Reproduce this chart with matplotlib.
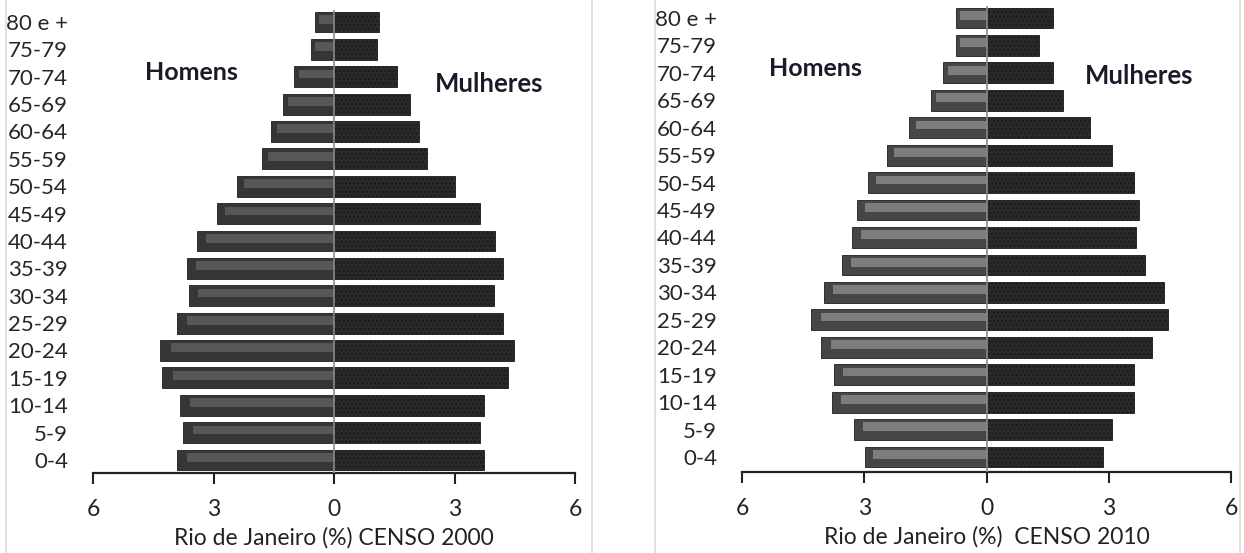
import numpy as np
import matplotlib.pyplot as plt
from matplotlib.patches import FancyBboxPatch

plt.rcParams['font.family'] = ['Lato', 'DejaVu Sans']

# age groups, bottom to top
idades = ['0-4', '5-9', '10-14', '15-19', '20-24', '25-29', '30-34', '35-39',
          '40-44', '45-49', '50-54', '55-59', '60-64', '65-69', '70-74',
          '75-79', '80 e +']

# censo 2000 (%)
homens_2000 = [3.90, 3.75, 3.83, 4.27, 4.32, 3.90, 3.60, 3.65, 3.41, 2.91,
               2.42, 1.80, 1.56, 1.28, 0.99, 0.58, 0.48]
mulheres_2000 = [3.73, 3.63, 3.73, 4.32, 4.49, 4.20, 3.98, 4.20, 4.02, 3.63,
                 3.01, 2.32, 2.12, 1.88, 1.56, 1.06, 1.11]

# censo 2010 (%)
homens_2010 = [2.98, 3.24, 3.80, 3.75, 4.06, 4.31, 4.00, 3.55, 3.29, 3.18,
               2.92, 2.45, 1.89, 1.37, 1.06, 0.75, 0.75]
mulheres_2010 = [2.86, 3.07, 3.63, 3.63, 4.06, 4.46, 4.36, 3.90, 3.68, 3.75,
                 3.63, 3.07, 2.55, 1.87, 1.62, 1.30, 1.62]

ticks = [-6, -3, 0, 3, 6]
tick_labels = ['6', '3', '0', '3', '6']

W, H = 1244, 553
fig = plt.figure(figsize=(W / 100, H / 100), dpi=100)
fig.patch.set_facecolor('white')

# light rounded frames around each panel
for x0, x1 in [(6, 592), (655, 1240)]:
    frame = FancyBboxPatch((x0 / W, -0.05), (x1 - x0) / W, 1.2,
                           boxstyle='round,pad=0,rounding_size=0.03',
                           transform=fig.transFigure, fill=False,
                           edgecolor='#dcdcdc', linewidth=1.2, zorder=0)
    fig.patches.append(frame)

paineis = [
    dict(x=(93, 575), yc=(22, 460), yax=473, hom=homens_2000, mul=mulheres_2000,
         base='#363636', band='#5e5e5e', title='Rio de Janeiro (%) CENSO 2000',
         h_pos=(-3.55, 14.15), m_pos=(3.85, 13.75)),
    dict(x=(742, 1231), yc=(18, 457), yax=472, hom=homens_2010, mul=mulheres_2010,
         base='#464646', band='#878787', title='Rio de Janeiro (%)  CENSO 2010',
         h_pos=(-4.2, 14.15), m_pos=(3.75, 13.9)),
]

y = np.arange(len(idades))
for p in paineis:
    sp = (p['yc'][1] - p['yc'][0]) / (len(idades) - 1)
    ybot = -(p['yax'] - p['yc'][1]) / sp
    ytop = len(idades) - 1 + 0.45
    top_px = p['yc'][0] - 0.45 * sp
    ax = fig.add_axes([p['x'][0] / W, 1 - p['yax'] / H,
                       (p['x'][1] - p['x'][0]) / W, (p['yax'] - top_px) / H])
    hom = -np.array(p['hom'])
    mul = np.array(p['mul'])
    h = 0.76
    ax.barh(y, hom, height=h, color=p['base'], edgecolor='#1e1e1e', linewidth=0.6, zorder=2)
    # lighter bevel band on the men's bars
    ax.barh(y + 0.1, hom * 0.96 + 0.08, height=h * 0.42, color=p['band'],
            linewidth=0, zorder=3, alpha=0.85)
    ax.barh(y, mul, height=h, color='#2a2a2a', edgecolor='#1a1a1a', linewidth=0.6,
            hatch='....', zorder=2)
    ax.axvline(0, color='#8a8a8a', linewidth=1.2, zorder=4)

    ax.set_xlim(-6, 6)
    ax.set_ylim(ybot, ytop)
    ax.set_xticks(ticks)
    ax.set_xticklabels(tick_labels, fontsize=16.5)
    ax.set_yticks(y)
    ax.set_yticklabels(idades, fontsize=16, color='#262626')
    ax.tick_params(axis='y', length=0, pad=18)
    ax.tick_params(axis='x', direction='out', length=8, width=1.5, pad=11,
                   colors='#222222')
    for s in ['left', 'right', 'top']:
        ax.spines[s].set_visible(False)
    ax.spines['bottom'].set_linewidth(1.6)
    ax.spines['bottom'].set_color('#222222')
    ax.set_xlabel(p['title'], fontsize=16.5, labelpad=5, color='#222222')
    ax.text(p['h_pos'][0], p['h_pos'][1], 'Homens', fontsize=18, fontweight='bold',
            color='#1a1a2a', ha='center', va='center')
    ax.text(p['m_pos'][0], p['m_pos'][1], 'Mulheres', fontsize=18.5, fontweight='bold',
            color='#1a1a2a', ha='center', va='center')
    ax.set_facecolor('none')

fig.savefig('out.png', dpi=100)
